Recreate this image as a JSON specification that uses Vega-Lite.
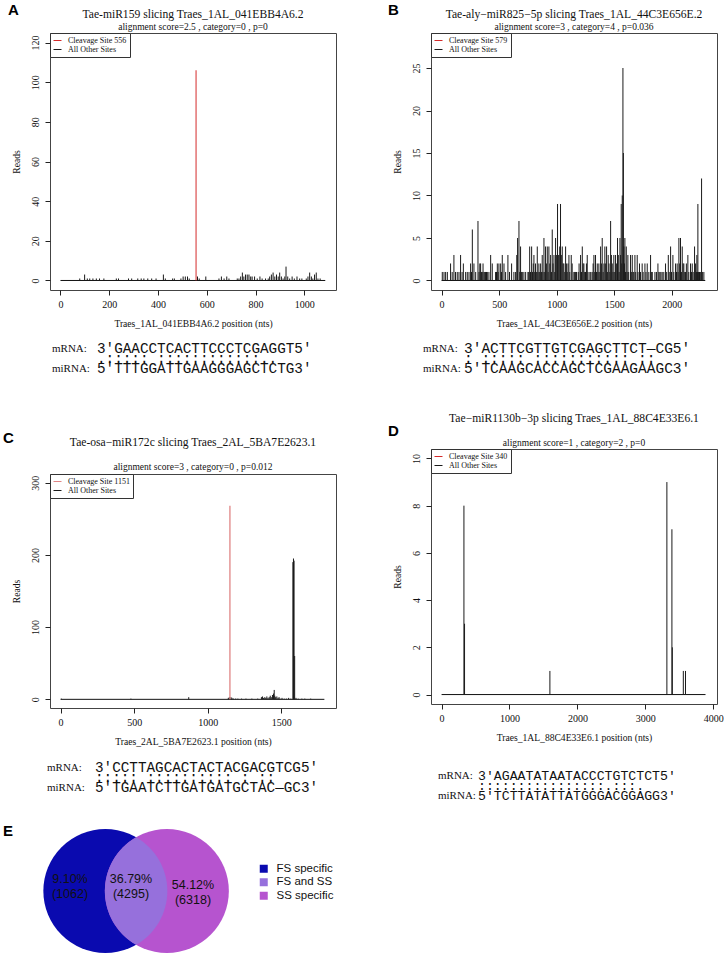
{
  "$schema": "https://vega.github.io/schema/vega-lite/v6.json",
  "background": "white",
  "padding": {"left": 3, "top": 3, "right": 2, "bottom": 2},
  "spacing": 21,
  "resolve": {"scale": {"color": "independent"}, "legend": {"color": "independent"}},
  "config": {
    "view": {"stroke": null},
    "font": "Liberation Serif",
    "axis": {"domain": false, "grid": false, "ticks": true, "tickSize": 5, "tickColor": "#222", "tickWidth": 1,
      "labelFont": "Liberation Serif", "labelFontSize": 10, "labelColor": "#111", "labelFlush": false, "labelOverlap": false,
      "titleFont": "Liberation Serif", "titleFontSize": 9.6, "titleFontWeight": "normal", "titleColor": "#111"},
    "axisX": {"labelPadding": 4, "titlePadding": 9},
    "axisY": {"labelAngle": -90, "labelPadding": 5, "titlePadding": 9},
    "title": {"font": "Liberation Serif", "fontSize": 11.6, "fontWeight": "normal", "color": "#111",
      "subtitleFont": "Liberation Serif", "subtitleFontSize": 9.5, "subtitleColor": "#111", "anchor": "middle", "offset": 1, "subtitlePadding": 1},
    "legend": {"orient": "top-left", "offset": 0, "padding": 3, "strokeColor": "#333", "fillColor": "white", "symbolType": "stroke",
      "symbolSize": 64, "symbolStrokeWidth": 1, "labelFont": "Liberation Serif", "labelFontSize": 8, "labelColor": "#111",
      "rowPadding": 0, "labelOffset": 6}
  },
  "datasets": {
    "none": [],
    "A_len": [{"p": 0, "p2": 1086}],
    "A_clv": [{"p": 556, "r": 106}],
    "A_oth": [{"p":79,"r":1},{"p":99,"r":3},{"p":110,"r":1},{"p":120,"r":1},{"p":133,"r":1},{"p":147,"r":1},{"p":160,"r":1},{"p":178,"r":1},{"p":229,"r":1},{"p":238,"r":1},{"p":279,"r":1},{"p":292,"r":1},{"p":317,"r":1},{"p":331,"r":1},{"p":342,"r":1},{"p":358,"r":1},{"p":374,"r":1},{"p":392,"r":1},{"p":422,"r":3},{"p":430,"r":1},{"p":460,"r":1},{"p":467,"r":1},{"p":494,"r":1},{"p":503,"r":2},{"p":512,"r":2},{"p":521,"r":2},{"p":528,"r":1},{"p":562,"r":2},{"p":569,"r":1},{"p":596,"r":2},{"p":650,"r":1},{"p":660,"r":2},{"p":671,"r":1},{"p":682,"r":2},{"p":691,"r":1},{"p":725,"r":1},{"p":732,"r":1},{"p":739,"r":2},{"p":746,"r":4},{"p":752,"r":2},{"p":759,"r":3},{"p":766,"r":3},{"p":773,"r":3},{"p":780,"r":2},{"p":786,"r":2},{"p":796,"r":2},{"p":807,"r":1},{"p":818,"r":2},{"p":827,"r":1},{"p":841,"r":1},{"p":852,"r":1},{"p":858,"r":2},{"p":865,"r":3},{"p":872,"r":4},{"p":879,"r":2},{"p":886,"r":3},{"p":893,"r":2},{"p":899,"r":4},{"p":906,"r":2},{"p":913,"r":1},{"p":920,"r":2},{"p":925,"r":7},{"p":932,"r":2},{"p":940,"r":1},{"p":950,"r":2},{"p":959,"r":1},{"p":970,"r":2},{"p":981,"r":1},{"p":990,"r":1},{"p":1008,"r":1},{"p":1015,"r":2},{"p":1022,"r":4},{"p":1029,"r":2},{"p":1035,"r":1},{"p":1042,"r":3},{"p":1049,"r":4},{"p":1056,"r":1},{"p":1065,"r":1}],
    "B_len": [{"p": 0, "p2": 2290}],
    "B_oth": [{"p":6,"r":1},{"p":21,"r":1},{"p":35,"r":1},{"p":50,"r":1},{"p":78,"r":2},{"p":92,"r":1},{"p":107,"r":3},{"p":121,"r":1},{"p":136,"r":1},{"p":151,"r":1},{"p":165,"r":3},{"p":178,"r":1},{"p":189,"r":2},{"p":209,"r":1},{"p":223,"r":1},{"p":238,"r":1},{"p":252,"r":2},{"p":260,"r":1},{"p":267,"r":6},{"p":281,"r":2},{"p":296,"r":1},{"p":316,"r":7},{"p":325,"r":1},{"p":332,"r":2},{"p":339,"r":2},{"p":346,"r":1},{"p":353,"r":1},{"p":360,"r":2},{"p":368,"r":1},{"p":375,"r":1},{"p":382,"r":1},{"p":390,"r":1},{"p":397,"r":1},{"p":411,"r":1},{"p":426,"r":3},{"p":440,"r":2},{"p":469,"r":1},{"p":477,"r":1},{"p":484,"r":2},{"p":491,"r":1},{"p":498,"r":2},{"p":513,"r":2},{"p":520,"r":1},{"p":527,"r":3},{"p":542,"r":2},{"p":556,"r":1},{"p":576,"r":3},{"p":590,"r":1},{"p":608,"r":2},{"p":628,"r":1},{"p":643,"r":1},{"p":653,"r":3},{"p":660,"r":5},{"p":672,"r":7},{"p":679,"r":1},{"p":686,"r":4},{"p":693,"r":1},{"p":701,"r":1},{"p":715,"r":1},{"p":730,"r":1},{"p":750,"r":1},{"p":757,"r":1},{"p":765,"r":4},{"p":772,"r":1},{"p":782,"r":4},{"p":790,"r":1},{"p":796,"r":2},{"p":802,"r":3},{"p":809,"r":1},{"p":816,"r":2},{"p":823,"r":1},{"p":831,"r":4},{"p":838,"r":1},{"p":845,"r":2},{"p":852,"r":1},{"p":860,"r":2},{"p":867,"r":1},{"p":874,"r":3},{"p":881,"r":1},{"p":889,"r":5},{"p":896,"r":1},{"p":903,"r":4},{"p":910,"r":2},{"p":918,"r":4},{"p":925,"r":1},{"p":932,"r":4},{"p":940,"r":2},{"p":947,"r":3},{"p":954,"r":1},{"p":961,"r":6},{"p":968,"r":2},{"p":976,"r":3},{"p":983,"r":1},{"p":990,"r":5},{"p":997,"r":3},{"p":1007,"r":9},{"p":1013,"r":3},{"p":1019,"r":3},{"p":1026,"r":4},{"p":1033,"r":9},{"p":1040,"r":3},{"p":1048,"r":4},{"p":1055,"r":2},{"p":1062,"r":2},{"p":1070,"r":1},{"p":1077,"r":4},{"p":1084,"r":2},{"p":1091,"r":1},{"p":1098,"r":2},{"p":1106,"r":3},{"p":1113,"r":1},{"p":1126,"r":3},{"p":1134,"r":2},{"p":1149,"r":1},{"p":1156,"r":1},{"p":1164,"r":1},{"p":1172,"r":1},{"p":1187,"r":1},{"p":1194,"r":2},{"p":1207,"r":3},{"p":1215,"r":1},{"p":1222,"r":4},{"p":1229,"r":2},{"p":1236,"r":2},{"p":1243,"r":1},{"p":1250,"r":1},{"p":1258,"r":2},{"p":1265,"r":3},{"p":1272,"r":1},{"p":1288,"r":1},{"p":1296,"r":1},{"p":1308,"r":1},{"p":1316,"r":2},{"p":1323,"r":3},{"p":1330,"r":1},{"p":1337,"r":3},{"p":1345,"r":1},{"p":1352,"r":2},{"p":1359,"r":1},{"p":1366,"r":2},{"p":1374,"r":1},{"p":1381,"r":4},{"p":1388,"r":2},{"p":1395,"r":5},{"p":1403,"r":1},{"p":1410,"r":2},{"p":1418,"r":4},{"p":1425,"r":2},{"p":1433,"r":4},{"p":1440,"r":1},{"p":1447,"r":3},{"p":1454,"r":2},{"p":1461,"r":1},{"p":1468,"r":7},{"p":1475,"r":3},{"p":1482,"r":2},{"p":1489,"r":1},{"p":1496,"r":3},{"p":1504,"r":1},{"p":1511,"r":3},{"p":1518,"r":2},{"p":1528,"r":5},{"p":1535,"r":3},{"p":1542,"r":1},{"p":1549,"r":5},{"p":1555,"r":3},{"p":1560,"r":9},{"p":1565,"r":2},{"p":1569,"r":10},{"p":1575,"r":25},{"p":1579,"r":15},{"p":1583,"r":4},{"p":1588,"r":2},{"p":1592,"r":5},{"p":1597,"r":1},{"p":1604,"r":4},{"p":1611,"r":1},{"p":1618,"r":3},{"p":1625,"r":1},{"p":1641,"r":3},{"p":1648,"r":1},{"p":1656,"r":3},{"p":1663,"r":1},{"p":1670,"r":1},{"p":1679,"r":3},{"p":1686,"r":1},{"p":1699,"r":3},{"p":1706,"r":1},{"p":1719,"r":2},{"p":1728,"r":1},{"p":1742,"r":2},{"p":1750,"r":1},{"p":1766,"r":2},{"p":1775,"r":1},{"p":1786,"r":2},{"p":1800,"r":1},{"p":1815,"r":3},{"p":1822,"r":1},{"p":1830,"r":1},{"p":1853,"r":1},{"p":1866,"r":1},{"p":1879,"r":2},{"p":1887,"r":1},{"p":1896,"r":1},{"p":1905,"r":1},{"p":1916,"r":1},{"p":1930,"r":1},{"p":1945,"r":2},{"p":1955,"r":1},{"p":1969,"r":3},{"p":1977,"r":1},{"p":1989,"r":4},{"p":1997,"r":1},{"p":2009,"r":3},{"p":2017,"r":1},{"p":2032,"r":2},{"p":2040,"r":1},{"p":2046,"r":2},{"p":2054,"r":1},{"p":2061,"r":5},{"p":2068,"r":2},{"p":2075,"r":5},{"p":2083,"r":1},{"p":2090,"r":4},{"p":2097,"r":2},{"p":2104,"r":2},{"p":2112,"r":1},{"p":2119,"r":1},{"p":2126,"r":2},{"p":2139,"r":3},{"p":2147,"r":1},{"p":2162,"r":2},{"p":2170,"r":1},{"p":2177,"r":2},{"p":2185,"r":1},{"p":2197,"r":4},{"p":2206,"r":2},{"p":2213,"r":1},{"p":2217,"r":3},{"p":2222,"r":1},{"p":2226,"r":9},{"p":2232,"r":1},{"p":2240,"r":1},{"p":2250,"r":1},{"p":2258,"r":12},{"p":2265,"r":1},{"p":2278,"r":1}],
    "C_len": [{"p": 0, "p2": 1793}],
    "C_clv": [{"p": 1151, "r": 268}],
    "C_oth": [{"p":5,"r":1},{"p":478,"r":1},{"p":871,"r":3},{"p":1140,"r":2},{"p":1147,"r":3},{"p":1158,"r":3},{"p":1165,"r":2},{"p":1175,"r":1},{"p":1190,"r":1},{"p":1205,"r":1},{"p":1230,"r":1},{"p":1260,"r":1},{"p":1300,"r":1},{"p":1340,"r":1},{"p":1365,"r":3},{"p":1372,"r":4},{"p":1380,"r":2},{"p":1388,"r":3},{"p":1395,"r":2},{"p":1402,"r":4},{"p":1410,"r":2},{"p":1418,"r":3},{"p":1425,"r":5},{"p":1432,"r":3},{"p":1440,"r":6},{"p":1447,"r":8},{"p":1452,"r":13},{"p":1456,"r":5},{"p":1462,"r":3},{"p":1470,"r":4},{"p":1478,"r":2},{"p":1485,"r":3},{"p":1492,"r":1},{"p":1505,"r":2},{"p":1520,"r":1},{"p":1535,"r":1},{"p":1550,"r":2},{"p":1565,"r":1},{"p":1579,"r":190},{"p":1583,"r":195},{"p":1587,"r":192},{"p":1591,"r":60},{"p":1600,"r":2},{"p":1615,"r":1},{"p":1640,"r":1},{"p":1660,"r":1},{"p":1700,"r":1}],
    "D_len": [{"p": 0, "p2": 3887}],
    "D_oth": [{"p":329,"r":8},{"p":338,"r":3},{"p":1595,"r":1},{"p":3318,"r":9},{"p":3392,"r":7},{"p":3398,"r":2},{"p":3560,"r":1},{"p":3592,"r":1}],
    "A_aln": [
      {"line": "mRNA", "lab": "mRNA:", "seq": "3'GAACCTCACTTCCCTCGAGGT5'"},
      {"line": "match", "lab": "", "seq": "\u00a0\u00a0.:::::\u00a0::::::::::::.."},
      {"line": "miRNA", "lab": "miRNA:", "seq": "5'TTTGGATTGAAGGGAGCTCTG3'"}
    ],
    "B_aln": [
      {"line": "mRNA", "lab": "mRNA:", "seq": "3'ACTTCGTTGTCGAGCTTCT\u2014CG5'"},
      {"line": "match", "lab": "", "seq": "\u00a0\u00a0:\u00a0:::::\u00a0:::::::::::\u00a0::"},
      {"line": "miRNA", "lab": "miRNA:", "seq": "5'TCAAGCACCAGCTCGAAGAAGC3'"}
    ],
    "C_aln": [
      {"line": "mRNA", "lab": "mRNA:", "seq": "3'CCTTAGCACTACTACGACGTCG5'"},
      {"line": "match", "lab": "", "seq": "\u00a0\u00a0\u00a0:::::\u00a0::::::::::\u00a0:\u00a0::"},
      {"line": "miRNA", "lab": "miRNA:", "seq": "5'TGAATCTTGATGATGCTAC\u2014GC3'"}
    ],
    "D_aln": [
      {"line": "mRNA", "lab": "mRNA:", "seq": "3'AGAATATAATACCCTGTCTCT5'"},
      {"line": "match", "lab": "", "seq": "\u00a0\u00a0::::::::::::::::.:::."},
      {"line": "miRNA", "lab": "miRNA:", "seq": "5'TCTTATATTATGGGACGGAGG3'"}
    ],
    "venn_sets": [{"set": "FS specific", "cx": 0, "cy": 0}, {"set": "SS specific", "cx": 1, "cy": 0}],
    "venn_overlap": [{"set": "FS and SS", "cx": 0.5, "cy": 0}],
    "venn_labels": [
      {"lab": "9.10%\n(1062)", "cx": -0.575, "cy": 0.195},
      {"lab": "36.79%\n(4295)", "cx": 0.417, "cy": 0.195},
      {"lab": "54.12%\n(6318)", "cx": 1.425, "cy": 0.098}
    ]
  },
  "vconcat": [
    {
      "spacing": 51,
      "resolve": {"scale": {"color": "independent"}, "legend": {"color": "independent"}},
      "hconcat": [
        {
          "bounds": "flush",
          "spacing": 0,
          "resolve": {"scale": {"color": "independent"}, "legend": {"color": "independent"}},
          "vconcat": [
            {"width": 286, "height": 1, "data": {"name": "none"}, "mark": "point",
             "title": {"text": "A", "anchor": "start", "frame": "group", "offset": 14, "dx": -42, "font": "Liberation Sans", "fontSize": 15, "fontWeight": "bold", "color": "#000"}},
            {
              "width": 286, "height": 257,
              "view": {"stroke": "#444", "strokeWidth": 1},
              "title": {"text": "Tae-miR159 slicing Traes_1AL_041EBB4A6.2", "subtitle": "alignment score=2.5 , category=0 , p=0", "subtitlePadding": 1, "offset": 1},
              "layer": [
                {"data": {"name": "A_len"}, "mark": {"type": "rule", "color": "#111", "strokeWidth": 1},
                 "encoding": {
                   "x": {"field": "p", "type": "quantitative", "scale": {"domain": [-43, 1130], "nice": false, "zero": false}, "axis": {"values": [0, 200, 400, 600, 800, 1000], "format": "d", "title": "Traes_1AL_041EBB4A6.2 position (nts)"}},
                   "x2": {"field": "p2"},
                   "y": {"datum": 0, "type": "quantitative", "scale": {"domain": [-4.8, 124.8], "nice": false, "zero": false}, "axis": {"values": [0, 20, 40, 60, 80, 100, 120], "format": "d", "title": "Reads"}}}},
                {"data": {"name": "A_oth"}, "mark": {"type": "rule", "strokeWidth": 1},
                 "encoding": {
                   "x": {"field": "p", "type": "quantitative"},
                   "y": {"field": "r", "type": "quantitative"},
                   "y2": {"datum": 0},
                   "color": {"datum": "All Other Sites", "type": "nominal", "scale": {"domain": ["Cleavage Site 556", "All Other Sites"], "range": ["#d42a2a", "#1a1a1a"]}, "legend": {"title": null}}}},
                {"data": {"name": "A_clv"}, "mark": {"type": "rule", "strokeWidth": 1},
                 "encoding": {
                   "x": {"field": "p", "type": "quantitative"},
                   "y": {"field": "r", "type": "quantitative"},
                   "y2": {"datum": 0},
                   "color": {"datum": "Cleavage Site 556", "type": "nominal"}}}
              ]
            },
            {"width": 286, "height": 54, "data": {"name": "none"}, "mark": "point"},
            {
              "width": 286, "height": 30,
              "data": {"name": "A_aln"},
              "layer": [
                {"mark": {"type": "text", "align": "left", "baseline": "middle", "font": "Liberation Serif", "fontSize": 11, "color": "#111"},
                 "encoding": {
                   "x": {"datum": "label", "type": "nominal", "scale": {"type": "point", "domain": ["label", "seq"], "range": [2, 47], "padding": 0}, "axis": null},
                   "y": {"field": "line", "type": "nominal", "scale": {"type": "point", "domain": ["mRNA", "match", "miRNA"], "padding": 0.5}, "axis": null},
                   "text": {"field": "lab"}}},
                {"mark": {"type": "text", "align": "left", "baseline": "middle", "font": "Liberation Mono", "fontSize": 14.3, "color": "#111"},
                 "encoding": {
                   "x": {"datum": "seq", "type": "nominal"},
                   "y": {"field": "line", "type": "nominal"},
                   "text": {"field": "seq"}}}
              ]
            },
            {"width": 286, "height": 100, "data": {"name": "none"}, "mark": "point",
             "title": {"text": "C", "anchor": "start", "frame": "group", "offset": -72, "dx": -47, "font": "Liberation Sans", "fontSize": 15, "fontWeight": "bold", "color": "#000"}},
            {
              "width": 286, "height": 234,
              "view": {"stroke": "#444", "strokeWidth": 1},
              "title": {"text": "Tae-osa\u2212miR172c slicing Traes_2AL_5BA7E2623.1", "subtitle": "alignment score=3 , category=0 , p=0.012", "subtitlePadding": 13.5, "offset": 2},
              "layer": [
                {"data": {"name": "C_len"}, "mark": {"type": "rule", "color": "#111", "strokeWidth": 1},
                 "encoding": {
                   "x": {"field": "p", "type": "quantitative", "scale": {"domain": [-72, 1872], "nice": false, "zero": false}, "axis": {"values": [0, 500, 1000, 1500], "format": "d", "title": "Traes_2AL_5BA7E2623.1 position (nts)"}},
                   "x2": {"field": "p2"},
                   "y": {"datum": 0, "type": "quantitative", "scale": {"domain": [-12, 312], "nice": false, "zero": false}, "axis": {"values": [0, 50, 100, 150, 200, 250, 300], "format": "d", "title": "Reads"}}}},
                {"data": {"name": "C_oth"}, "mark": {"type": "rule", "strokeWidth": 1},
                 "encoding": {
                   "x": {"field": "p", "type": "quantitative"},
                   "y": {"field": "r", "type": "quantitative"},
                   "y2": {"datum": 0},
                   "color": {"datum": "All Other Sites", "type": "nominal", "scale": {"domain": ["Cleavage Site 1151", "All Other Sites"], "range": ["#e08585", "#1a1a1a"]}, "legend": {"title": null}}}},
                {"data": {"name": "C_clv"}, "mark": {"type": "rule", "strokeWidth": 1.3},
                 "encoding": {
                   "x": {"field": "p", "type": "quantitative"},
                   "y": {"field": "r", "type": "quantitative"},
                   "y2": {"datum": 0},
                   "color": {"datum": "Cleavage Site 1151", "type": "nominal"}}}
              ]
            },
            {"width": 286, "height": 55, "data": {"name": "none"}, "mark": "point"},
            {
              "width": 286, "height": 30,
              "data": {"name": "C_aln"},
              "layer": [
                {"mark": {"type": "text", "align": "left", "baseline": "middle", "font": "Liberation Serif", "fontSize": 11, "color": "#111"},
                 "encoding": {
                   "x": {"datum": "label", "type": "nominal", "scale": {"type": "point", "domain": ["label", "seq"], "range": [-3, 45], "padding": 0}, "axis": null},
                   "y": {"field": "line", "type": "nominal", "scale": {"type": "point", "domain": ["mRNA", "match", "miRNA"], "padding": 0.5}, "axis": null},
                   "text": {"field": "lab"}}},
                {"mark": {"type": "text", "align": "left", "baseline": "middle", "font": "Liberation Mono", "fontSize": 14.3, "color": "#111"},
                 "encoding": {
                   "x": {"datum": "seq", "type": "nominal"},
                   "y": {"field": "line", "type": "nominal"},
                   "text": {"field": "seq"}}}
              ]
            }
          ]
        },
        {
          "bounds": "flush",
          "spacing": 0,
          "resolve": {"scale": {"color": "independent"}, "legend": {"color": "independent"}},
          "vconcat": [
            {"width": 286, "height": 1, "data": {"name": "none"}, "mark": "point",
             "title": {"text": "B", "anchor": "start", "frame": "group", "offset": 14, "dx": -43, "font": "Liberation Sans", "fontSize": 15, "fontWeight": "bold", "color": "#000"}},
            {
              "width": 286, "height": 257,
              "view": {"stroke": "#444", "strokeWidth": 1},
              "title": {"text": "Tae-aly\u2212miR825\u22125p slicing Traes_1AL_44C3E656E.2", "subtitle": "alignment score=3 , category=4 , p=0.036", "subtitlePadding": 1, "offset": 1},
              "layer": [
                {"data": {"name": "B_len"}, "mark": {"type": "rule", "color": "#111", "strokeWidth": 1},
                 "encoding": {
                   "x": {"field": "p", "type": "quantitative", "scale": {"domain": [-92, 2392], "nice": false, "zero": false}, "axis": {"values": [0, 500, 1000, 1500, 2000], "format": "d", "title": "Traes_1AL_44C3E656E.2 position (nts)"}},
                   "x2": {"field": "p2"},
                   "y": {"datum": 0, "type": "quantitative", "scale": {"domain": [-1.12, 29.12], "nice": false, "zero": false}, "axis": {"values": [0, 5, 10, 15, 20, 25], "format": "d", "title": "Reads"}}}},
                {"data": {"name": "B_oth"}, "mark": {"type": "rule", "strokeWidth": 1},
                 "encoding": {
                   "x": {"field": "p", "type": "quantitative"},
                   "y": {"field": "r", "type": "quantitative"},
                   "y2": {"datum": 0},
                   "color": {"datum": "All Other Sites", "type": "nominal", "scale": {"domain": ["Cleavage Site 579", "All Other Sites"], "range": ["#d42a2a", "#1a1a1a"]}, "legend": {"title": null}}}}
              ]
            },
            {"width": 286, "height": 54, "data": {"name": "none"}, "mark": "point"},
            {
              "width": 286, "height": 30,
              "data": {"name": "B_aln"},
              "layer": [
                {"mark": {"type": "text", "align": "left", "baseline": "middle", "font": "Liberation Serif", "fontSize": 11, "color": "#111"},
                 "encoding": {
                   "x": {"datum": "label", "type": "nominal", "scale": {"type": "point", "domain": ["label", "seq"], "range": [-8, 33], "padding": 0}, "axis": null},
                   "y": {"field": "line", "type": "nominal", "scale": {"type": "point", "domain": ["mRNA", "match", "miRNA"], "padding": 0.5}, "axis": null},
                   "text": {"field": "lab"}}},
                {"mark": {"type": "text", "align": "left", "baseline": "middle", "font": "Liberation Mono", "fontSize": 14.5, "color": "#111"},
                 "encoding": {
                   "x": {"datum": "seq", "type": "nominal"},
                   "y": {"field": "line", "type": "nominal"},
                   "text": {"field": "seq"}}}
              ]
            },
            {"width": 286, "height": 75, "data": {"name": "none"}, "mark": "point",
             "title": {"text": "D", "anchor": "start", "frame": "group", "offset": -65, "dx": -43, "font": "Liberation Sans", "fontSize": 15, "fontWeight": "bold", "color": "#000"}},
            {
              "width": 286, "height": 255,
              "view": {"stroke": "#444", "strokeWidth": 1},
              "title": {"text": "Tae\u2212miR1130b\u22123p slicing Traes_1AL_88C4E33E6.1", "subtitle": "alignment score=1 , category=2 , p=0", "subtitlePadding": 13.5, "offset": 1},
              "layer": [
                {"data": {"name": "D_len"}, "mark": {"type": "rule", "color": "#111", "strokeWidth": 1},
                 "encoding": {
                   "x": {"field": "p", "type": "quantitative", "scale": {"domain": [-156, 4056], "nice": false, "zero": false}, "axis": {"values": [0, 1000, 2000, 3000, 4000], "format": "d", "title": "Traes_1AL_88C4E33E6.1 position (nts)"}},
                   "x2": {"field": "p2"},
                   "y": {"datum": 0, "type": "quantitative", "scale": {"domain": [-0.4, 10.4], "nice": false, "zero": false}, "axis": {"values": [0, 2, 4, 6, 8, 10], "format": "d", "title": "Reads"}}}},
                {"data": {"name": "D_oth"}, "mark": {"type": "rule", "strokeWidth": 1},
                 "encoding": {
                   "x": {"field": "p", "type": "quantitative"},
                   "y": {"field": "r", "type": "quantitative"},
                   "y2": {"datum": 0},
                   "color": {"datum": "All Other Sites", "type": "nominal", "scale": {"domain": ["Cleavage Site 340", "All Other Sites"], "range": ["#d42a2a", "#1a1a1a"]}, "legend": {"title": null}}}}
              ]
            },
            {"width": 286, "height": 67, "data": {"name": "none"}, "mark": "point"},
            {
              "width": 286, "height": 30,
              "data": {"name": "D_aln"},
              "layer": [
                {"mark": {"type": "text", "align": "left", "baseline": "middle", "font": "Liberation Serif", "fontSize": 11, "color": "#111"},
                 "encoding": {
                   "x": {"datum": "label", "type": "nominal", "scale": {"type": "point", "domain": ["label", "seq"], "range": [7, 47], "padding": 0}, "axis": null},
                   "y": {"field": "line", "type": "nominal", "scale": {"type": "point", "domain": ["mRNA", "match", "miRNA"], "padding": 0.5}, "axis": null},
                   "text": {"field": "lab"}}},
                {"mark": {"type": "text", "align": "left", "baseline": "middle", "font": "Liberation Mono", "fontSize": 13.2, "color": "#111"},
                 "encoding": {
                   "x": {"datum": "seq", "type": "nominal"},
                   "y": {"field": "line", "type": "nominal"},
                   "text": {"field": "seq"}}}
              ]
            }
          ]
        }
      ]
    },
    {
      "width": 246, "height": 130,
      "title": {"text": "E", "anchor": "start", "frame": "group", "offset": -13, "dx": -47, "font": "Liberation Sans", "fontSize": 15, "fontWeight": "bold", "color": "#000"},
      "layer": [
        {"data": {"name": "venn_sets"},
         "mark": {"type": "point", "shape": "circle", "filled": true, "opacity": 1, "size": 15376, "strokeWidth": 0},
         "encoding": {
           "x": {"field": "cx", "type": "quantitative", "scale": {"domain": [-0.9, 3.1], "nice": false, "zero": false}, "axis": null},
           "y": {"field": "cy", "type": "quantitative", "scale": {"domain": [-1.057, 1.057], "nice": false, "zero": false}, "axis": null},
           "color": {"field": "set", "type": "nominal",
             "scale": {"domain": ["FS specific", "FS and SS", "SS specific"], "range": ["#0a0aaf", "#9670dc", "#b654cf"]},
             "legend": {"title": null, "orient": "none", "legendX": 208, "legendY": 37, "symbolType": "square", "symbolSize": 64, "symbolStrokeWidth": 0,
               "labelFont": "Liberation Sans", "labelFontSize": 11.5, "labelOffset": 7, "rowPadding": 0.5, "padding": 0, "strokeColor": "transparent", "fillColor": "transparent"}}}},
        {"data": {"name": "venn_overlap"},
         "mark": {"type": "point", "shape": "M0,-1A1.1516,1.1516,0,0,1,0,1A1.1516,1.1516,0,0,1,0,-1Z", "filled": true, "opacity": 1, "size": 11595, "strokeWidth": 0},
         "encoding": {
           "x": {"field": "cx", "type": "quantitative"},
           "y": {"field": "cy", "type": "quantitative"},
           "color": {"field": "set", "type": "nominal"}}},
        {"data": {"name": "venn_labels"},
         "mark": {"type": "text", "font": "Liberation Sans", "fontSize": 12.5, "lineBreak": "\n", "lineHeight": 15, "align": "center", "baseline": "middle", "color": "#111"},
         "encoding": {
           "x": {"field": "cx", "type": "quantitative"},
           "y": {"field": "cy", "type": "quantitative"},
           "text": {"field": "lab"}}}
      ]
    }
  ]
}
